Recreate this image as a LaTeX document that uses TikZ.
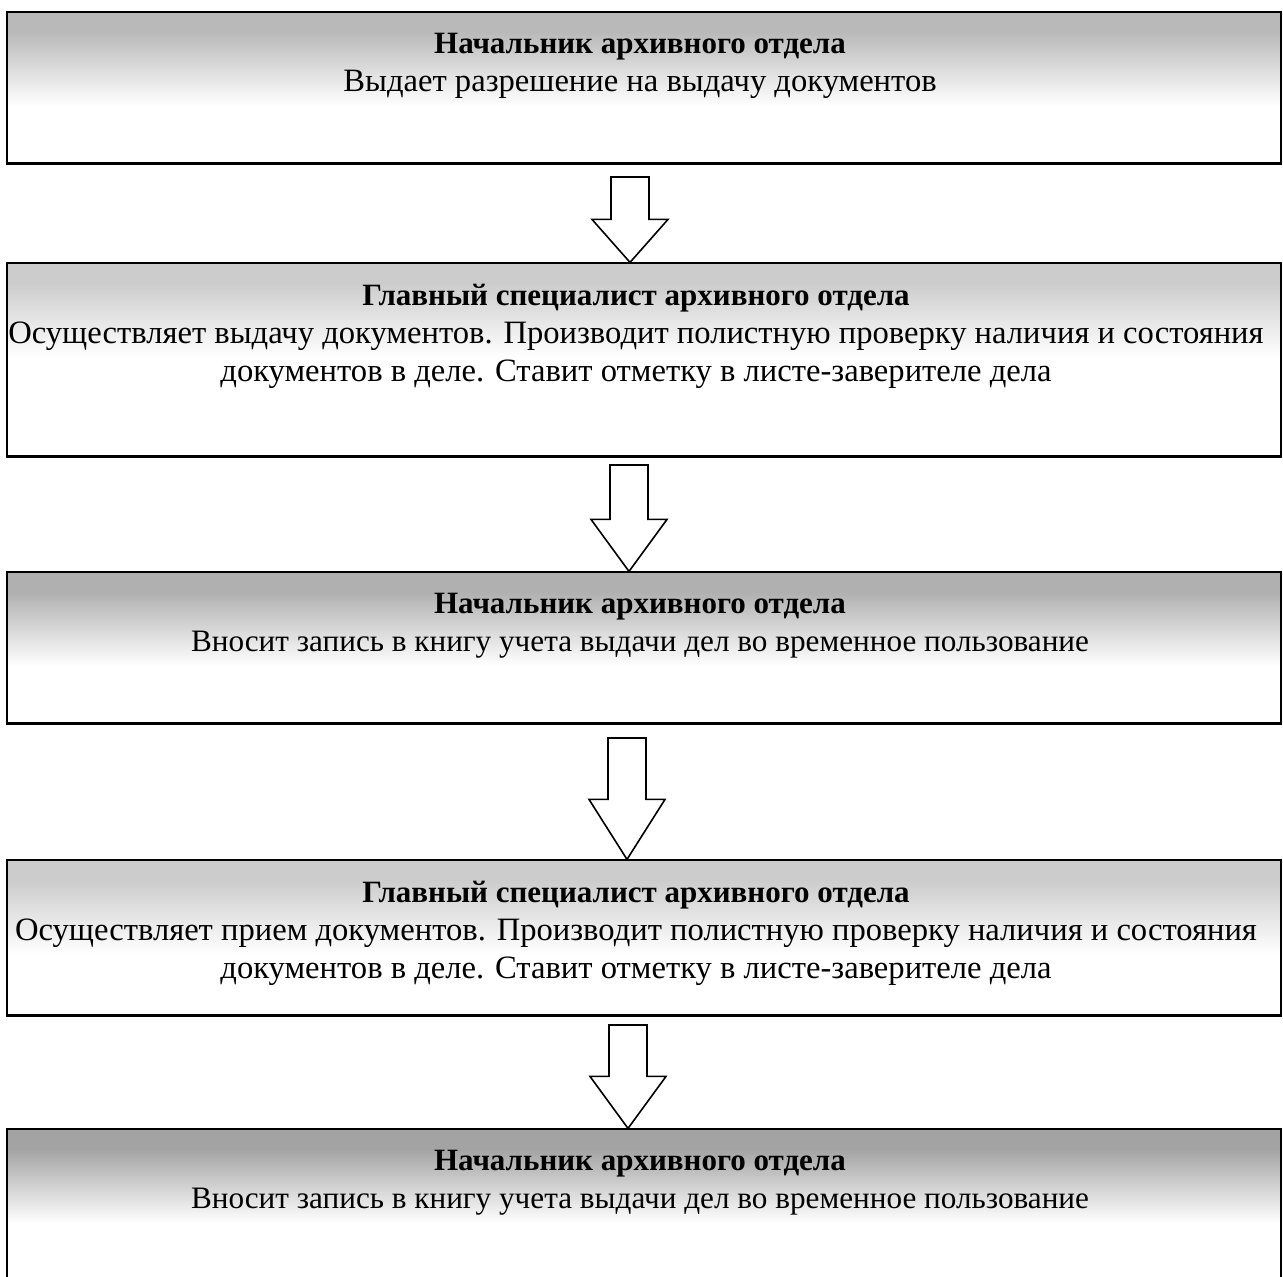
\documentclass[tikz,border=0pt]{standalone}
\usepackage{fontspec}
\setmainfont{Liberation Serif}
\usetikzlibrary{positioning,calc,fit}

\colorlet{boxtop}{gray!50}

\tikzset{
  boxgrey/.style={/utils/exec={\colorlet{boxtop}{#1}}},
  stagebox/.style={draw=black, line width=0.6pt, inner sep=0pt,
    path picture={
      \fill[boxtop] (path picture bounding box.north west) rectangle ([yshift=-10pt]path picture bounding box.north east);
      \shade[top color=boxtop, bottom color=white] ([yshift=-10pt]path picture bounding box.north west) rectangle ([yshift=-47pt]path picture bounding box.north east);}},
  stagetext/.style={align=center, inner sep=0pt, font=\fontsize{#1}{19.2}\selectfont},
  hollow/.style={draw=black, line width=0.8pt, fill=white}
}

\newcommand{\stagehead}[1]{{\fontsize{15.5}{19.2}\selectfont\bfseries #1}}

% block arrow: shaft top, tip, head length
\newcommand{\hollowdown}[3]{%
  \draw[hollow] let \p1=(#1), \p2=(#2) in
    (\x2-9.5pt,\y1) -- (\x2+9.5pt,\y1) -- (\x2+9.5pt,\y2+#3) -- (\x2+19pt,\y2+#3)
    -- (\x2,\y2) -- (\x2-19pt,\y2+#3) -- (\x2-9.5pt,\y2+#3) -- cycle;}

\begin{document}
\begin{tikzpicture}[x=0.5pt, y=-0.5pt]
    \useasboundingbox[fill=white] (0,0) rectangle (1283,1277);

    % Boxes
    \node[stagebox, boxgrey=gray!55, fit={(7,12) (1281,163)}] (b1) {};
    \node[stagebox, boxgrey=gray!40, fit={(7,263) (1281,456)}] (b2) {};
    \node[stagebox, boxgrey=gray!62, fit={(7,572) (1281,723)}] (b3) {};
    \node[stagebox, boxgrey=gray!40, fit={(7,860) (1281,1015)}] (b4) {};
    \node[stagebox, boxgrey=gray!72, fit={(7,1129) (1281,1300)}] (b5) {};
    \draw[line width=1.5pt] (b1.south west) -- (b1.south east);
    \draw[line width=1.5pt] (b2.south west) -- (b2.south east);
    \draw[line width=1.5pt] (b3.south west) -- (b3.south east);
    \draw[line width=1.5pt] (b4.south west) -- (b4.south east);

    % Texts
    \node[stagetext=16.3, anchor=north] (t1) at ([xshift=-2pt,yshift=-10.5pt]b1.north)
        {\stagehead{Начальник архивного отдела}\\Выдает разрешение на выдачу документов};
    \node[stagetext=16.3, anchor=north] (t2) at ([xshift=-4pt,yshift=-10.5pt]b2.north)
        {\stagehead{Главный специалист архивного отдела}\\Осуществляет выдачу документов. Производит полистную проверку наличия и состояния\\документов в деле. Ставит отметку в листе-заверителе дела};
    \node[stagetext=15.6, anchor=north] (t3) at ([xshift=-2pt,yshift=-10.5pt]b3.north)
        {\stagehead{Начальник архивного отдела}\\Вносит запись в книгу учета выдачи дел во временное пользование};
    \node[stagetext=16.3, anchor=north] (t4) at ([xshift=-4pt,yshift=-10.5pt]b4.north)
        {\stagehead{Главный специалист архивного отдела}\\Осуществляет прием документов. Производит полистную проверку наличия и состояния\\документов в деле. Ставит отметку в листе-заверителе дела};
    \node[stagetext=15.6, anchor=north] (t5) at ([xshift=-2pt,yshift=-10.5pt]b5.north)
        {\stagehead{Начальник архивного отдела}\\Вносит запись в книгу учета выдачи дел во временное пользование};

    % Arrows
    \coordinate (s1) at (630,177);
    \coordinate (s2) at (629,465);
    \coordinate (s3) at (627,738);
    \coordinate (s4) at (628,1025);
    \hollowdown{s1}{b2.north -| s1}{21.5pt}
    \hollowdown{s2}{b3.north -| s2}{26pt}
    \hollowdown{s3}{b4.north -| s3}{30pt}
    \hollowdown{s4}{b5.north -| s4}{26pt}
\end{tikzpicture}
\end{document}
